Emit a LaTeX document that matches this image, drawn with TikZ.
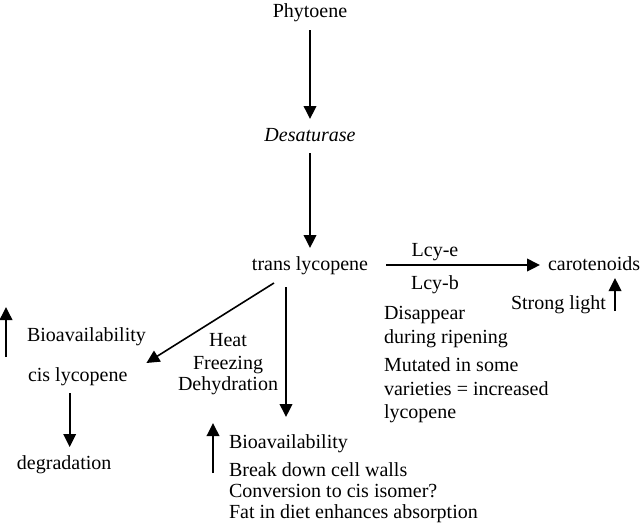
\documentclass[tikz,border=0pt]{standalone}
\usepackage{fontspec}
\setmainfont{Liberation Serif}
\usetikzlibrary{arrows.meta}

\begin{document}
\begin{tikzpicture}[x=0.5pt, y=-0.5pt,
    lbl/.style={font=\fontsize{10}{11}\selectfont, inner sep=0pt, outer sep=4pt, text height=7pt, text depth=2pt},
    arr/.style={line width=0.8pt, -{Triangle[width=6.3pt,length=6.5pt]}}]
    \useasboundingbox (0,0) rectangle (640,530);
    % Main pathway
    \node[lbl, anchor=base] (phy) at (310,18) {Phytoene};
    \node[lbl, anchor=base] (des) at (310,141) {\textit{Desaturase}};
    \node[lbl, anchor=base] (trans) at (310,270) {trans lycopene};
    \draw[arr] (phy) -- (des);
    \draw[arr] (des) -- (trans);
    % Cyclase branch
    \node[lbl, anchor=base west] (car) at (540,270) {carotenoids};
    \node[lbl, anchor=base] (lcye) at (435,256) {Lcy-e};
    \node[lbl, anchor=base] (lcyb) at (435,289) {Lcy-b};
    \draw[arr, shorten <=5pt] (trans) -- (car);
    \node[lbl, anchor=base east] (light) at (614,309) {Strong light};
    \draw[arr] ([shift={(1,7)}]light.east) -- ([shift={(1,-26)}]light.east);
    \node[lbl, anchor=base west] (dis1) at (376,319) {Disappear};
    \node[lbl, anchor=base west] (dis2) at (376,343) {during ripening};
    \node[lbl, anchor=base west] (mut1) at (376,371) {Mutated in some};
    \node[lbl, anchor=base west] (mut2) at (376,395) {varieties = increased};
    \node[lbl, anchor=base west] (mut3) at (376,418) {lycopene};
    % Isomerisation
    \node[lbl, anchor=base] (heat) at (228,346) {Heat};
    \node[lbl, anchor=base] (frz) at (228,369) {Freezing};
    \node[lbl, anchor=base] (dehy) at (228,390) {Dehydration};
    \node[lbl, anchor=base west] (bio1) at (19,341) {Bioavailability};
    \node[lbl, anchor=base west] (cis) at (20,381) {cis lycopene};
    \node[lbl, anchor=base west] (degr) at (9,469) {degradation};
    \draw[arr] ([shift={(-13,21)}]bio1.west) -- ([shift={(-13,-29)}]bio1.west);
    \draw[arr] ([shift={(30,1)}]trans.south west) -- ([shift={(11,-13)}]cis.east);
    \draw[arr] ([xshift=-4pt]cis.south) -- ([xshift=-4pt]cis.south |- degr.north);
    % Processing
    \node[lbl, anchor=base west] (bio2) at (221,448) {Bioavailability};
    \node[lbl, anchor=base west] (brk) at (221,476) {Break down cell walls};
    \node[lbl, anchor=base west] (conv) at (221,497) {Conversion to cis isomer?};
    \node[lbl, anchor=base west] (fat) at (221,518) {Fat in diet enhances absorption};
    \draw[arr, shorten >=4.5pt] ([shift={(-24,5)}]trans.south) -- ([xshift=-12pt]trans.south |- bio2.north);
    \draw[arr] ([shift={(-8,30)}]bio2.west) -- ([shift={(-8,-20)}]bio2.west);
\end{tikzpicture}
\end{document}
